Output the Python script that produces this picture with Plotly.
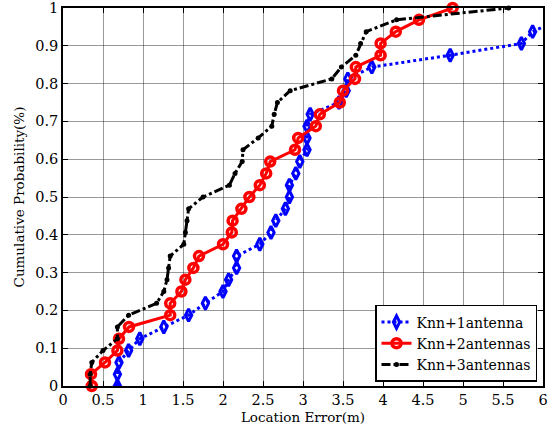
import plotly.graph_objects as go

prob = [i / 32 for i in range(33)]

knn1_x = [0.68, 0.68, 0.70, 0.82, 0.96, 1.26, 1.57, 1.78, 2.00, 2.07, 2.17, 2.17,
          2.46, 2.60, 2.66, 2.78, 2.83, 2.83, 2.91, 2.96, 3.05, 3.05, 3.05, 3.09,
          3.45, 3.54, 3.56, 3.86, 4.84, 5.73, 5.87, 6.20]
knn1_y = prob[:32]

knn2_x = [0.36, 0.35, 0.525, 0.68, 0.70, 0.825, 1.34, 1.34, 1.48, 1.53, 1.63, 1.70,
          2.00, 2.11, 2.12, 2.23, 2.33, 2.46, 2.54, 2.59, 2.90, 2.94, 3.16, 3.21,
          3.46, 3.50, 3.65, 3.66, 3.97, 3.97, 4.16, 4.45, 4.87]
knn2_y = prob

knn3_x = [0.34, 0.34, 0.36, 0.50, 0.68, 0.68, 0.82, 1.17, 1.26, 1.30, 1.32, 1.34,
          1.51, 1.53, 1.55, 1.57, 1.75, 2.08, 2.15, 2.24, 2.25, 2.44, 2.61, 2.64,
          2.68, 2.84, 3.36, 3.48, 3.66, 3.72, 3.79, 4.17, 5.57]
knn3_y = prob

names = ["Knn+1antenna", "Knn+2antennas", "Knn+3antennas"]
x_ticks = [0, 0.5, 1, 1.5, 2, 2.5, 3, 3.5, 4, 4.5, 5, 5.5, 6]
x_tick_text = ["0", "0.5", "1", "1.5", "2", "2.5", "3", "3.5", "4", "4.5", "5", "5.5", "6"]
y_ticks = [0, 0.1, 0.2, 0.3, 0.4, 0.5, 0.6, 0.7, 0.8, 0.9, 1]
y_tick_text = ["0", "0.1", "0.2", "0.3", "0.4", "0.5", "0.6", "0.7", "0.8", "0.9", "1"]

font = "DejaVu Serif"

fig = go.Figure()
fig.add_trace(go.Scatter(
    x=knn1_x, y=knn1_y, mode="lines+markers", name=names[0],
    line=dict(color="#0000ff", width=3, dash="dot"),
    marker=dict(symbol="diamond-tall-open", size=9, color="#0000ff", line=dict(width=3, color="#0000ff")),
    cliponaxis=True,
))
fig.add_trace(go.Scatter(
    x=knn2_x, y=knn2_y, mode="lines+markers", name=names[1],
    line=dict(color="#ff0000", width=3),
    marker=dict(symbol="circle-open", size=9, color="#ff0000", line=dict(width=3.5, color="#ff0000")),
    cliponaxis=False,
))
fig.add_trace(go.Scatter(
    x=knn3_x, y=knn3_y, mode="lines+markers", name=names[2],
    line=dict(color="#000000", width=3, dash="dashdot"),
    marker=dict(symbol="circle", size=5, color="#000000"),
    cliponaxis=False,
))

axis_common = dict(
    showgrid=True, gridcolor="rgba(0,0,0,0.4)", gridwidth=1,
    showline=True, linecolor="black", linewidth=1.5, mirror="ticks",
    ticks="inside", ticklen=5, tickcolor="black", zeroline=False,
    automargin=False, ticklabeloverflow="allow",
    tickfont=dict(family=font, size=14.5, color="black"),
)

fig.update_xaxes(range=[0, 6], tickvals=x_ticks, ticktext=x_tick_text,
                 title=dict(text="Location Error(m)", font=dict(family=font, size=13.5, color="black"), standoff=5),
                 **axis_common)
fig.update_yaxes(range=[0, 1], tickvals=y_ticks, ticktext=y_tick_text,
                 title=dict(text="Cumulative Probability(%)", font=dict(family=font, size=13.5, color="black"), standoff=8),
                 **axis_common)

fig.update_layout(
    width=557, height=434,
    margin=dict(l=63, r=14, t=8, b=48),
    plot_bgcolor="white", paper_bgcolor="white",
    font=dict(family=font, color="black"),
    legend=dict(x=0.9875, y=0.0106, xanchor="right", yanchor="bottom",
                bgcolor="white", bordercolor="black", borderwidth=1.5,
                font=dict(family=font, size=14, color="black"),
                tracegroupgap=0, itemwidth=30),
    showlegend=True,
)

fig.write_html("out.html", config={"displayModeBar": False},
               post_script="document.body.style.margin='0';")
